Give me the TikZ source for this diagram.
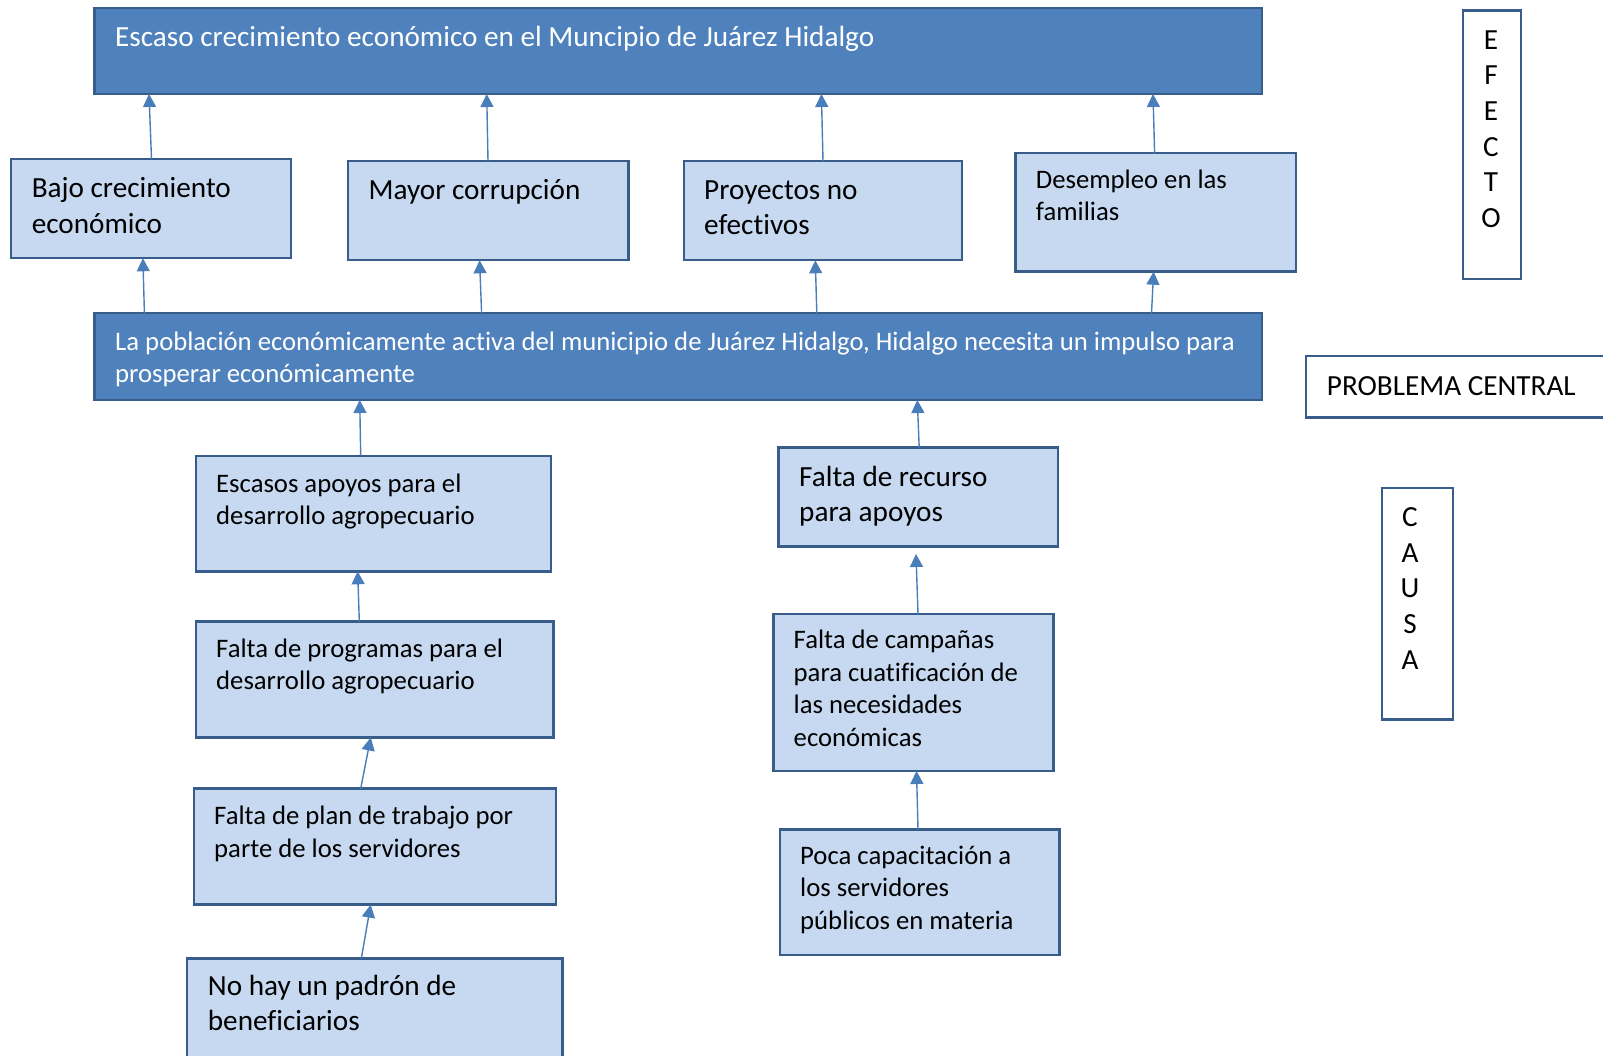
\documentclass[tikz,border=0pt]{standalone}
\usepackage{fontspec}
\setmainfont{Carlito}[Ligatures={NoCommon}]
\usetikzlibrary{arrows.meta}
\definecolor{darkfill}{HTML}{4F81BD}
\definecolor{boxborder}{HTML}{385D8A}
\definecolor{lightfill}{HTML}{C6D9F1}
\definecolor{arrowc}{HTML}{4A7EBB}
\tikzset{
  boxbase/.style={draw=boxborder, line width=2.4pt, rectangle, inner sep=0pt, outer sep=0pt, anchor=north west},
  darkbox/.style={boxbase, fill=darkfill},
  lightbox/.style={boxbase, fill=lightfill},
  whitebox/.style={boxbase, fill=white},
  txtbig/.style={inner sep=0pt, anchor=north west, align=left, font=\fontsize{29.2}{35.5}\selectfont},
  txtsmall/.style={inner sep=0pt, anchor=north west, align=left, font=\fontsize{26.7}{32.5}\selectfont},
  vletters/.style={inner sep=0pt, anchor=north, align=center, font=\fontsize{29.2}{35.7}\selectfont},
  arr/.style={draw=arrowc, line width=1.4pt, -{Triangle[width=13pt,length=13pt]}}
}
\begin{document}
\begin{tikzpicture}[x=1pt,y=-1pt]
\useasboundingbox (0,0) rectangle (1603,1056);
\clip (0,0) rectangle (1603,1056);
% boxes
\node[darkbox, minimum width=1167.8pt, minimum height=85.7pt] (top) at (94.4,8.3) {};
\node[lightbox, minimum width=279.6pt, minimum height=99.3pt] (bajo) at (11.2,159) {};
\node[lightbox, minimum width=280.6pt, minimum height=99.3pt] (mayor) at (348,161) {};
\node[lightbox, minimum width=278.5pt, minimum height=99.3pt] (proy) at (683.7,161) {};
\node[lightbox, minimum width=280.7pt, minimum height=118.7pt] (desemp) at (1015.3,153) {};
\node[darkbox, minimum width=1167.8pt, minimum height=86.7pt] (central) at (94.4,313.3) {};
\node[whitebox, minimum width=330pt, minimum height=61.3pt] (problema) at (1306,356) {};
\node[whitebox, minimum width=58pt, minimum height=268.8pt] (efecto) at (1463,10.5) {};
\node[lightbox, minimum width=355.3pt, minimum height=115.6pt] (escasos) at (195.7,455.7) {};
\node[lightbox, minimum width=357.6pt, minimum height=116pt] (prog) at (195.7,621.5) {};
\node[lightbox, minimum width=362pt, minimum height=116pt] (plan) at (193.7,788.6) {};
\node[lightbox, minimum width=375.6pt, minimum height=120pt] (nohay) at (186.7,958.5) {};
\node[lightbox, minimum width=279.7pt, minimum height=98.9pt] (recurso) at (778.3,447.5) {};
\node[lightbox, minimum width=280.2pt, minimum height=157pt] (campanas) at (773.4,614) {};
\node[lightbox, minimum width=279.6pt, minimum height=125.7pt] (poca) at (780,829.3) {};
\node[whitebox, minimum width=71.3pt, minimum height=231.3pt] (causa) at (1381.7,488) {};
% texts
\node[txtbig, text=white] (toptxt) at (115,21.85) {\strut Escaso crecimiento económico en el Muncipio de Juárez Hidalgo};
\node[txtbig] (bajotxt) at (31.6,172.85) {\strut Bajo crecimiento\\económico};
\node[txtbig] (mayortxt) at (368.4,174.15) {\strut Mayor corrupción};
\node[txtbig] (proytxt) at (704,174.15) {\strut Proyectos no\\efectivos};
\node[txtsmall] (desemptxt) at (1035.7,165.55) {\strut Desempleo en las\\familias};
\node[txtsmall, text=white] (centraltxt) at (115,327.25) {\strut La población económicamente activa del municipio de Juárez Hidalgo, Hidalgo necesita un impulso para\\prosperar económicamente};
\node[txtbig] (problematxt) at (1326.7,370.15) {\strut PROBLEMA CENTRAL};
\node[vletters] (efectotxt) at (1491,23.85) {\strut E\\F\\E\\C\\T\\O};
\node[txtsmall] (escasostxt) at (216,469.45) {\strut Escasos apoyos para el\\desarrollo agropecuario};
\node[txtsmall] (progtxt) at (216,634.45) {\strut Falta de programas para el\\desarrollo agropecuario};
\node[txtsmall] (plantxt) at (214,801.55) {\strut Falta de plan de trabajo por\\parte de los servidores};
\node[txtbig] (nohaytxt) at (207.7,970.15) {\strut No hay un padrón de\\beneficiarios};
\node[txtbig] (recursotxt) at (799,461) {\strut Falta de recurso\\para apoyos};
\node[txtsmall] (campanastxt) at (793.5,625.85) {\strut Falta de campañas\\para cuatificación de\\las necesidades\\económicas};
\node[txtsmall] (pocatxt) at (800,841.25) {\strut Poca capacitación a\\los servidores\\públicos en materia};
\node[vletters] (causatxt) at (1410,501.15) {\strut C\\A\\U\\S\\A};
% connectors
\draw[arr] ([xshift=140.3pt]bajo.north west) -- ([xshift=54.6pt]top.south west);
\draw[arr] ([xshift=140pt]mayor.north west) -- ([xshift=392.3pt]top.south west);
\draw[arr] ([xshift=139.3pt]proy.north west) -- ([xshift=727pt]top.south west);
\draw[arr] ([xshift=139.3pt]desemp.north west) -- ([xshift=1058.6pt]top.south west);
\draw[arr] ([xshift=50pt]central.north west) -- ([xshift=131.7pt]bajo.south west);
\draw[arr] ([xshift=387.2pt]central.north west) -- ([xshift=131.6pt]mayor.south west);
\draw[arr] ([xshift=722.4pt]central.north west) -- ([xshift=131.6pt]proy.south west);
\draw[arr] ([xshift=1057.1pt]central.north west) -- ([xshift=138.3pt]desemp.south west);
\draw[arr] ([xshift=165pt]escasos.north west) -- ([xshift=265.3pt]central.south west);
\draw[arr] ([xshift=140.9pt]recurso.north west) -- ([xshift=822.9pt]central.south west);
\draw[arr] ([xshift=163.6pt]prog.north west) -- ([xshift=162pt]escasos.south west);
\draw[arr] ([xshift=167pt]plan.north west) -- ([xshift=175pt]prog.south west);
\draw[arr] ([xshift=174.6pt]nohay.north west) -- ([xshift=177pt]plan.south west);
\draw[arr] ([xshift=144.6pt]campanas.north west) -- ([xshift=137.7pt,yshift=-7.6pt]recurso.south west);
\draw[arr] ([xshift=138pt]poca.north west) -- ([xshift=143.1pt]campanas.south west);
\end{tikzpicture}
\end{document}
